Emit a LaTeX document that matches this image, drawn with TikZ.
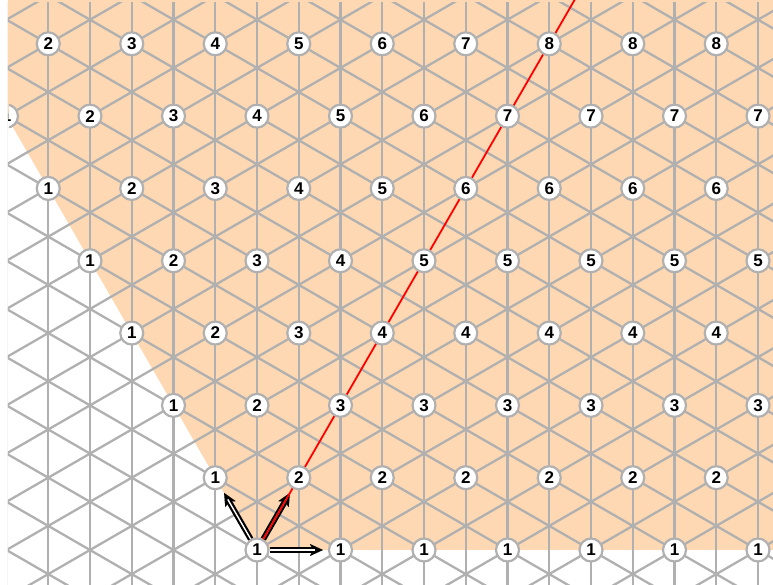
\documentclass[tikz,border=0pt]{standalone}
\usepackage{fontspec}
\setmainfont{Liberation Sans}
\usetikzlibrary{arrows.meta,calc}
\definecolor{gridgray}{RGB}{176,176,176}
\definecolor{peach}{RGB}{254,216,178}
\pgfdeclarelayer{back}
\pgfdeclarelayer{mid}
\pgfsetlayers{back,mid,main}
\begin{document}
\begin{tikzpicture}[x=1pt,y=1pt,
  gridline/.style={draw=gridgray, line width=2.3pt},
  latnode/.style={circle, draw=gridgray, line width=2.2pt, fill=white, inner sep=0pt,
    minimum size=23pt, font=\fontsize{17}{19}\selectfont\bfseries},
  vecouter/.style={draw=black, line width=5.8pt, shorten >=5pt,
    -{Stealth[length=13pt,width=12pt,inset=3pt,fill=black,line width=0.01pt]}},
  vecinner/.style={draw=white, line width=1.4pt, shorten >=12.5pt},
  redline/.style={draw=red, line width=1.8pt}]
\useasboundingbox (-257,-35) rectangle (516,550);
% background: cone and grid
\begin{pgfonlayer}{back}
\begin{scope}
  \clip (-249,-40) rectangle (520,555);
  \fill[peach] (0,0) -- (600,0) -- (600,700) -- (-404.15,700) -- cycle;
  \begin{scope}
    \clip (-249,-40) rectangle (520,547);
    \foreach \k in {-7,...,13}
      \draw[gridline] ({\k*41.75},-40) -- ({\k*41.75},560);
    \foreach \j in {-8,...,16}
      \draw[gridline] (-300,{\j*48.208-173.2}) -- (600,{\j*48.208+346.4});
    \foreach \j in {-5,...,19}
      \draw[gridline] (-300,{\j*48.208+173.2}) -- (600,{\j*48.208-346.4});
  \end{scope}
\end{scope}
\end{pgfonlayer}
% lattice nodes
\begin{scope}
  \clip (-248,-40) rectangle (520,555);
  \foreach \n in {0,...,7}{
    \foreach \m in {0,...,12}{
      \pgfmathsetmacro\X{(\m-\n/2)*83.5}
      \pgfmathtruncatemacro\lab{1+min(\m,\n)}
      \ifdim\X pt<530pt
        \ifdim\X pt>-265pt
          \node[latnode] (p-\m-\n) at (\X,{\n*72.31}) {\lab};
        \fi
      \fi
    }
  }
\end{scope}
\coordinate (redend) at (8*41.75,8*72.31);
\begin{pgfonlayer}{mid}
  \foreach \t in {p-1-0,p-0-1,p-1-1}{
    \draw[vecouter] (p-0-0) -- (\t);
    \draw[vecinner] (p-0-0) -- (\t);
  }
  \draw[redline] (p-0-0.center) -- (redend);
\end{pgfonlayer}
\end{tikzpicture}
\end{document}
